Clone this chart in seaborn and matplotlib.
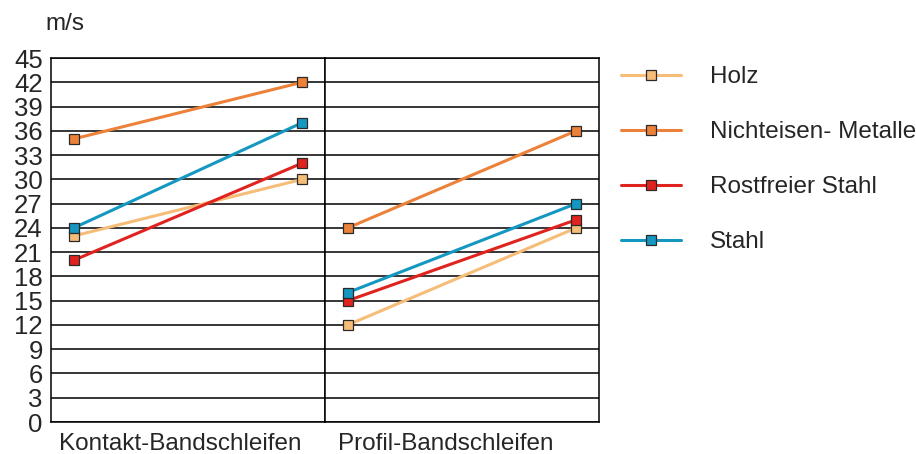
#!/usr/bin/env python3
import pandas as pd
import matplotlib
matplotlib.use("Agg")
import matplotlib.pyplot as plt
from matplotlib.lines import Line2D
import seaborn as sns

materials = ["Holz", "Nichteisen- Metalle", "Rostfreier Stahl", "Stahl"]
colors = ["#F6BD78", "#EC8139", "#E0231F", "#1497C1"]
panels = ["Kontakt-Bandschleifen", "Profil-Bandschleifen"]
stages = [0, 1]
# Geschwindigkeit m/s (Anfang, Ende) je Material
kontakt_vals = [[23, 30], [35, 42], [20, 32], [24, 37]]
profil_vals = [[12, 24], [24, 36], [15, 25], [16, 27]]
y_ticks = list(range(0, 46, 3))


def make_frame(vals):
    rows = []
    for mat, pair in zip(materials, vals):
        for st, v in zip(stages, pair):
            rows.append({"Material": mat, "Stufe": st, "Wert": v})
    return pd.DataFrame(rows)


def plot_speeds():
    sns.set_style("white")
    plt.rcParams["font.family"] = ["Liberation Sans", "DejaVu Sans"]
    fs = 17.5

    fig = plt.figure(figsize=(9.16, 4.54), dpi=100)
    W, H = 916, 454
    ax1 = fig.add_axes([51 / W, 1 - 422 / H, 274 / W, 364 / H])
    ax2 = fig.add_axes([325 / W, 1 - 422 / H, 274 / W, 364 / H], sharey=ax1)
    palette = dict(zip(materials, colors))

    label_x = [0.47, 0.44]
    for ax, vals, name, lx in zip([ax1, ax2], [kontakt_vals, profil_vals], panels, label_x):
        df = make_frame(vals)
        sns.lineplot(data=df, x="Stufe", y="Wert", hue="Material", palette=palette,
                     marker="s", markersize=7.5, markeredgecolor="#2a2a2a",
                     markeredgewidth=0.9, linewidth=2.2, legend=False, ax=ax, zorder=3)
        ax.set_xlim(-0.1, 1.1)
        ax.set_ylim(0, 45)
        ax.set_yticks(y_ticks)
        ax.set_xticks([])
        ax.grid(axis="y", color="black", linewidth=1.1)
        ax.set_axisbelow(True)
        for sp in ax.spines.values():
            sp.set_color("black")
            sp.set_linewidth(1.1)
        ax.set_xlabel(name, fontsize=fs)
        ax.xaxis.set_label_coords(lx, -0.03, transform=ax.transAxes)
        ax.xaxis.label.set_va("top")
        ax.set_ylabel("")
        ax.tick_params(axis="y", length=0, pad=6, labelsize=18.5)

    ax2.tick_params(axis="y", labelleft=False)

    fig.text(45 / W, 1 - 24 / H, "m/s", fontsize=fs, va="center", ha="left")

    handles = [Line2D([], [], color=c, linewidth=2.2, marker="s", markersize=7.5,
                      markeredgecolor="#2a2a2a", markeredgewidth=0.9) for c in colors]
    fig.legend(handles, materials, loc="upper left", bbox_to_anchor=(621 / W, 1 - 66 / H),
               frameon=False, fontsize=fs, borderpad=0, borderaxespad=0,
               handlelength=2.45, handletextpad=1.2, labelspacing=1.36)

    fig.savefig("out.png", dpi=100)
    print("Saved out.png", flush=True)


if __name__ == "__main__":
    plot_speeds()
